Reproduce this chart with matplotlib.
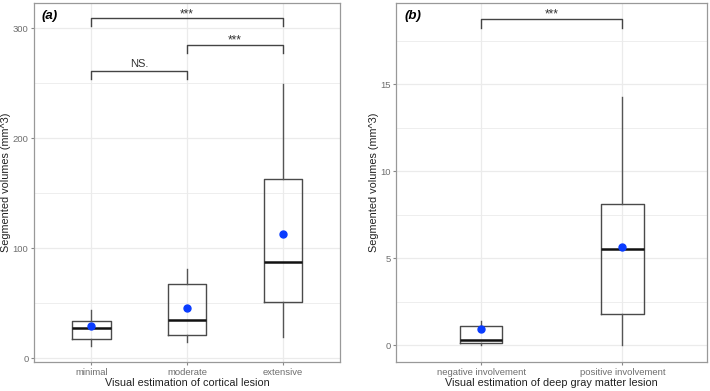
import matplotlib
matplotlib.use("Agg")
import matplotlib.pyplot as plt

plt.rcParams["font.family"] = ["Liberation Sans", "DejaVu Sans"]

# panel (a): cortical lesion
cats_a = ["minimal", "moderate", "extensive"]
whislo_a = [11.4, 15.1, 19.3]
q1_a = [17.8, 21.2, 51.4]
med_a = [27.2, 35.1, 87.2]
q3_a = [33.9, 67.8, 162.9]
whishi_a = [43.9, 81.1, 248.9]
mean_a = [29.6, 45.7, 113.2]
# brackets: (start, end, height, tip, label)
brk_a = [(1, 2, 261.2, 253.7, "NS."), (2, 3, 284.9, 277.6, "***"), (1, 3, 308.8, 301.8, "***")]

# panel (b): deep gray matter lesion
cats_b = ["negative involvement", "positive involvement"]
whislo_b = [0.03, 0.0]
q1_b = [0.12, 1.8]
med_b = [0.34, 5.55]
q3_b = [1.09, 8.12]
whishi_b = [1.43, 14.26]
mean_b = [0.94, 5.64]
brk_b = [(1, 2, 18.73, 18.2, "***")]

GRID = "#ebebeb"
TXT = "#6e6e6e"


def draw_panel(ax, cats, lo, q1, med, q3, hi, means, brackets, width, ylim,
               major, minor, xlabel, tag):
    stats = []
    for i in range(len(cats)):
        stats.append({"whislo": lo[i], "q1": q1[i], "med": med[i], "q3": q3[i],
                      "whishi": hi[i], "fliers": [], "label": cats[i]})
    pos = list(range(1, len(cats) + 1))
    ax.bxp(stats, positions=pos, widths=width, showcaps=False, showfliers=False,
           boxprops=dict(color="#4a4a4a", linewidth=1.0),
           whiskerprops=dict(color="#555555", linewidth=1.0),
           medianprops=dict(color="#111111", linewidth=1.8))
    ax.plot(pos, means, "o", color="#0a3cff", markersize=5, zorder=5)

    span = ylim[1] - ylim[0]
    for x0, x1, yb, yt, lab in brackets:
        ax.plot([x0, x0, x1, x1], [yt, yb, yb, yt], color="#444444", linewidth=1.0)
        if lab == "***":
            ax.text((x0 + x1) / 2, yb + span * 0.012, lab, ha="center", va="center",
                    fontsize=8.5, color="#333333")
        else:
            ax.text((x0 + x1) / 2, yb + span * 0.004, lab, ha="center", va="bottom",
                    fontsize=8, color="#333333")

    ax.set_xlim(0.4, len(cats) + 0.6)
    ax.set_ylim(*ylim)
    ax.set_yticks(major)
    ax.set_yticks(minor, minor=True)
    ax.set_xticks(pos)
    ax.set_xticklabels(cats)
    ax.grid(True, which="major", color=GRID, linewidth=0.9)
    ax.grid(True, which="minor", axis="y", color=GRID, linewidth=0.6)
    ax.set_axisbelow(True)
    ax.tick_params(which="minor", length=0)
    ax.tick_params(which="major", length=2.5, color="#888888", labelcolor=TXT,
                   labelsize=6.8, pad=1.5)
    for s in ax.spines.values():
        s.set_color("#999999")
        s.set_linewidth(0.9)
    ax.set_xlabel(xlabel, fontsize=7.8, color="#222222", labelpad=1)
    ax.set_ylabel("Segmented volumes (mm^3)", fontsize=7.8, color="#222222", labelpad=1)
    ax.text(0.026, 0.964, tag, transform=ax.transAxes, fontsize=9.5,
            fontweight="bold", fontstyle="italic", ha="left", va="center")


fig = plt.figure(figsize=(7.1, 3.91), dpi=100)
ax1 = fig.add_axes([0.0479, 0.0742, 0.431, 0.918])
ax2 = fig.add_axes([0.5582, 0.0742, 0.438, 0.918])

draw_panel(ax1, cats_a, whislo_a, q1_a, med_a, q3_a, whishi_a, mean_a, brk_a,
           0.4, (-3.4, 322.7), [0, 100, 200, 300], [50, 150, 250],
           "Visual estimation of cortical lesion", "(a)")
draw_panel(ax2, cats_b, whislo_b, q1_b, med_b, q3_b, whishi_b, mean_b, brk_b,
           0.3, (-0.95, 19.65), [0, 5, 10, 15], [2.5, 7.5, 12.5, 17.5],
           "Visual estimation of deep gray matter lesion", "(b)")

fig.savefig("out.png", dpi=100)
